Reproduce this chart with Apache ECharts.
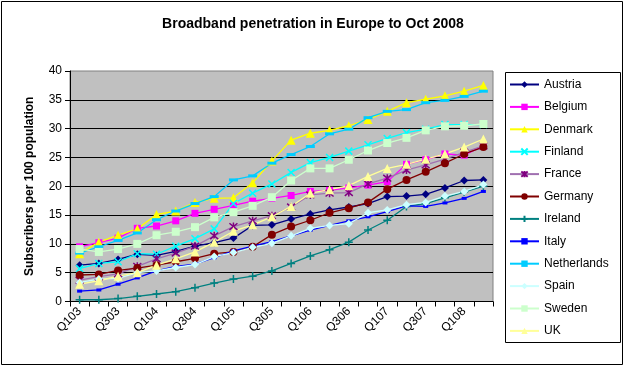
<!DOCTYPE html>
<html>
<head>
<meta charset="utf-8">
<script src="https://cdn.jsdelivr.net/npm/echarts@6/dist/echarts.min.js"></script>
<style>
html,body{margin:0;padding:0;background:#fff;}
#chart{width:626px;height:367px;}
</style>
</head>
<body>
<div id="chart"></div>
<script>
var categories = ['Q103','Q203','Q303','Q403','Q104','Q204','Q304','Q404','Q105','Q205','Q305','Q405','Q106','Q206','Q306','Q406','Q107','Q207','Q307','Q407','Q108','Q208'];
var yTicks = [0,5,10,15,20,25,30,35,40];

var austria     = [6.3,6.6,7.3,8.2,8.0,8.7,9.6,10.2,11.0,13.2,13.3,14.3,15.2,15.9,16.4,17.0,18.2,18.3,18.6,19.7,21.0,21.1];
var belgium     = [9.5,10.2,11.0,12.7,13.1,14.0,15.3,16.0,16.7,17.4,17.9,18.4,19.1,19.3,19.7,20.2,20.8,23.8,24.6,25.6,25.4,27.0];
var denmark     = [8.3,10.3,11.5,12.6,15.1,15.7,17.2,17.9,18.0,20.6,24.4,28.0,29.2,29.7,30.5,31.6,33.0,34.5,35.1,35.7,36.5,37.5];
var finland     = [5.7,6.6,6.9,8.3,8.2,9.6,10.9,12.6,17.0,18.8,20.4,22.4,24.1,25.0,26.1,27.2,28.3,29.3,29.9,30.7,30.7,30.7];
var france      = [3.7,4.3,4.8,6.1,7.4,8.4,9.6,11.4,13.0,14.0,14.9,16.4,18.5,18.8,18.9,20.4,21.4,22.8,23.7,24.7,25.9,27.0];
var germany     = [4.6,4.7,5.4,5.8,6.3,6.9,7.5,8.3,8.6,9.5,11.6,13.0,14.1,15.4,16.2,17.2,19.5,21.1,22.5,24.0,25.6,26.8];
var ireland     = [0.3,0.3,0.5,0.9,1.3,1.7,2.4,3.2,3.9,4.4,5.3,6.6,7.9,9.0,10.3,12.4,14.1,16.5,17.0,18.0,19.0,20.0];
var italy       = [1.8,2.0,3.0,4.1,5.3,6.1,6.5,7.6,8.8,9.6,10.4,11.4,12.4,13.2,14.0,14.7,15.6,16.6,16.5,17.1,17.9,19.1];
var netherlands = [8.4,9.5,10.6,11.9,14.2,15.7,17.0,18.2,21.1,21.8,24.0,25.5,26.9,29.1,29.9,31.9,33.0,33.3,34.5,34.9,35.6,36.5];
var spain       = [3.3,3.9,4.0,5.0,5.3,5.9,6.4,7.8,8.5,9.4,10.1,11.4,12.7,13.2,13.5,15.4,15.9,16.8,17.2,18.3,19.1,20.3];
var sweden      = [9.1,8.6,9.1,10.0,11.5,12.1,12.9,14.6,15.5,16.6,18.1,21.0,23.1,23.1,24.6,26.2,27.5,28.4,29.7,30.4,30.5,30.8];
var uk          = [3.0,3.6,4.4,5.0,6.3,7.4,8.6,10.3,12.2,13.3,14.7,16.5,18.8,19.4,20.1,21.7,23.1,23.8,24.7,25.6,26.8,28.2];

var FONT = 'Liberation Sans, Arial, sans-serif';

function mk(name, data, lineColor, symbol, size, markColor, strokeOnly) {
  var s = {
    name: name,
    type: 'line',
    data: data,
    symbol: symbol,
    symbolSize: size,
    showSymbol: true,
    showAllSymbol: true,
    lineStyle: { color: lineColor, width: 1.3 },
    itemStyle: { color: markColor || lineColor },
    emphasis: { disabled: true }
  };
  if (strokeOnly) {
    s.itemStyle = { color: markColor || lineColor, borderColor: markColor || lineColor, borderWidth: 1.5 };
  }
  return s;
}

var X_PATH = 'path://M0,0L10,10M10,0L0,10';
var STAR_PATH = 'path://M0,0L10,10M10,0L0,10M5,-1L5,11';
var PLUS_PATH = 'path://M5,0L5,10M0,5L10,5';

var chart = echarts.init(document.getElementById('chart'), null, { renderer: 'canvas' });
chart.setOption({
  animation: false,
  backgroundColor: '#fff',
  title: {
    text: 'Broadband penetration in Europe to Oct 2008',
    left: 'center',
    top: 12,
    textStyle: { fontFamily: FONT, fontSize: 14, fontWeight: 'bold', color: '#000' }
  },
  grid: {
    left: 70, top: 71, right: 133, bottom: 65.5,
    show: true, backgroundColor: '#C0C0C0', borderColor: '#808080', borderWidth: 1
  },
  legend: {
    orient: 'vertical',
    left: 509,
    top: 78.5,
    padding: 0,
    itemWidth: 29,
    itemHeight: 8,
    itemGap: 10.4,
    textStyle: { fontFamily: FONT, fontSize: 12, color: '#000' },
    data: ['Austria','Belgium','Denmark','Finland','France','Germany','Ireland','Italy','Netherlands','Spain','Sweden','UK']
  },
  xAxis: {
    type: 'category',
    data: categories,
    boundaryGap: true,
    axisLine: { lineStyle: { color: '#000', width: 1 } },
    axisTick: { show: true, interval: 0, length: 5, lineStyle: { color: '#000' } },
    axisLabel: { interval: 1, rotate: 45, fontFamily: FONT, fontSize: 12, color: '#000', margin: 8 },
    splitLine: { show: false }
  },
  yAxis: {
    type: 'value',
    min: yTicks[0],
    max: yTicks[yTicks.length - 1],
    interval: 5,
    name: 'Subscribers per 100 population',
    nameLocation: 'middle',
    nameGap: 34,
    nameTextStyle: { fontFamily: FONT, fontSize: 12, fontWeight: 'bold', color: '#000' },
    axisLine: { show: true, lineStyle: { color: '#000', width: 1 } },
    axisTick: { show: true, length: 5, lineStyle: { color: '#000' } },
    axisLabel: { fontFamily: FONT, fontSize: 12, color: '#000', margin: 8 },
    splitLine: { show: true, showMinLine: false, showMaxLine: false, lineStyle: { color: '#000', width: 1 } }
  },
  graphic: [
    { type: 'rect', shape: { x: 1.5, y: 1.5, width: 621, height: 363 }, style: { fill: 'none', stroke: '#000', lineWidth: 1 }, z: 100, silent: true },
    { type: 'rect', shape: { x: 505.5, y: 72.5, width: 115, height: 270 }, style: { fill: 'none', stroke: '#000', lineWidth: 1 }, z: 100, silent: true }
  ],
  series: [
    mk('Austria', austria, '#000080', 'diamond', 8),
    mk('Belgium', belgium, '#FF00FF', 'rect', 7),
    mk('Denmark', denmark, '#FFFF00', 'triangle', 9),
    mk('Finland', finland, '#00FFFF', X_PATH, 7, '#00FFFF', true),
    mk('France', france, '#A070B0', STAR_PATH, 8, '#800080', true),
    mk('Germany', germany, '#800000', 'circle', 8),
    mk('Ireland', ireland, '#008080', PLUS_PATH, 8, '#008080', true),
    mk('Italy', italy, '#0000FF', 'rect', [5, 3]),
    mk('Netherlands', netherlands, '#00CCFF', 'rect', [9, 3]),
    mk('Spain', spain, '#CCFFFF', 'diamond', 8),
    mk('Sweden', sweden, '#CCFFCC', 'rect', 8),
    mk('UK', uk, '#FFFF99', 'triangle', 9)
  ]
});
</script>
</body>
</html>
